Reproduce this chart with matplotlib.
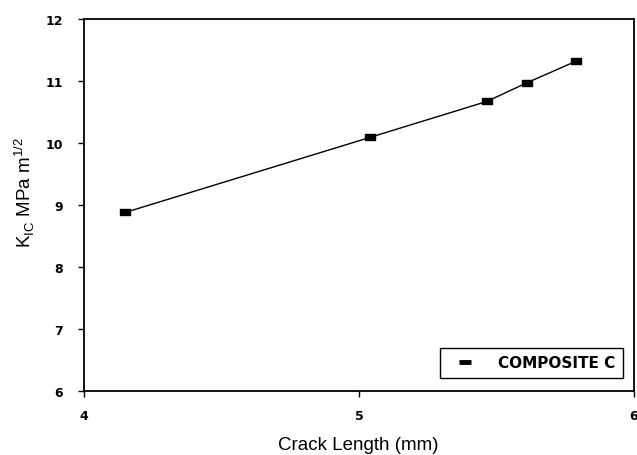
import matplotlib
matplotlib.use('Agg')
import matplotlib.pyplot as plt

plt.rcParams['font.family'] = ['Liberation Sans', 'DejaVu Sans']

crack_length = [4.15, 5.04, 5.465, 5.61, 5.79]
kic = [8.88, 10.09, 10.67, 10.97, 11.32]
series_name = 'COMPOSITE C'
xticks = [4, 5, 6]
yticks = [6, 7, 8, 9, 10, 11, 12]

# flat rectangular marker like the scanned original
rect = [(-1, -0.65), (1, -0.65), (1, 0.65), (-1, 0.65), (-1, -0.65)]

fig = plt.figure(figsize=(6.37, 4.56), dpi=100, facecolor='white')
ax = fig.add_axes([0.1319, 0.1404, 0.8634, 0.8158])

ax.plot(crack_length, kic, color='black', lw=1.0, marker=rect, ms=7.5,
        mfc='black', mec='black', label=series_name)

ax.set_xlim(4, 6)
ax.set_ylim(6, 12)
ax.set_xticks(xticks)
ax.set_yticks(yticks)
ax.tick_params(direction='out', length=4, width=1)
ax.tick_params(axis='y', pad=11)
ax.tick_params(axis='x', pad=9)
for lab in ax.get_xticklabels() + ax.get_yticklabels():
    lab.set_family('DejaVu Sans')
    lab.set_fontweight('bold')
    lab.set_fontsize(9)
for s in ax.spines.values():
    s.set_linewidth(1.3)

ax.set_xlabel('Crack Length (mm)', fontsize=13.5)
ax.xaxis.set_label_coords(0.498, -0.121)
ax.set_ylabel(r'K$_{\mathregular{IC}}$ MPa m$^{\mathregular{1/2}}$', fontsize=13.5)
ax.yaxis.set_label_coords(-0.085, 0.535)

leg = ax.legend(loc='lower right', bbox_to_anchor=(0.98, 0.035), borderaxespad=0,
                fancybox=False, edgecolor='black', framealpha=1,
                prop={'family': 'DejaVu Sans', 'weight': 'bold', 'size': 11},
                borderpad=0.5, handlelength=2.3, handletextpad=1.0)
leg.get_frame().set_linewidth(1.0)
for h in leg.get_lines():
    h.set_linestyle('')
    h.set_marker('_')
    h.set_markersize(9)
    h.set_markeredgewidth(3.5)

fig.savefig('out.png', dpi=100)
